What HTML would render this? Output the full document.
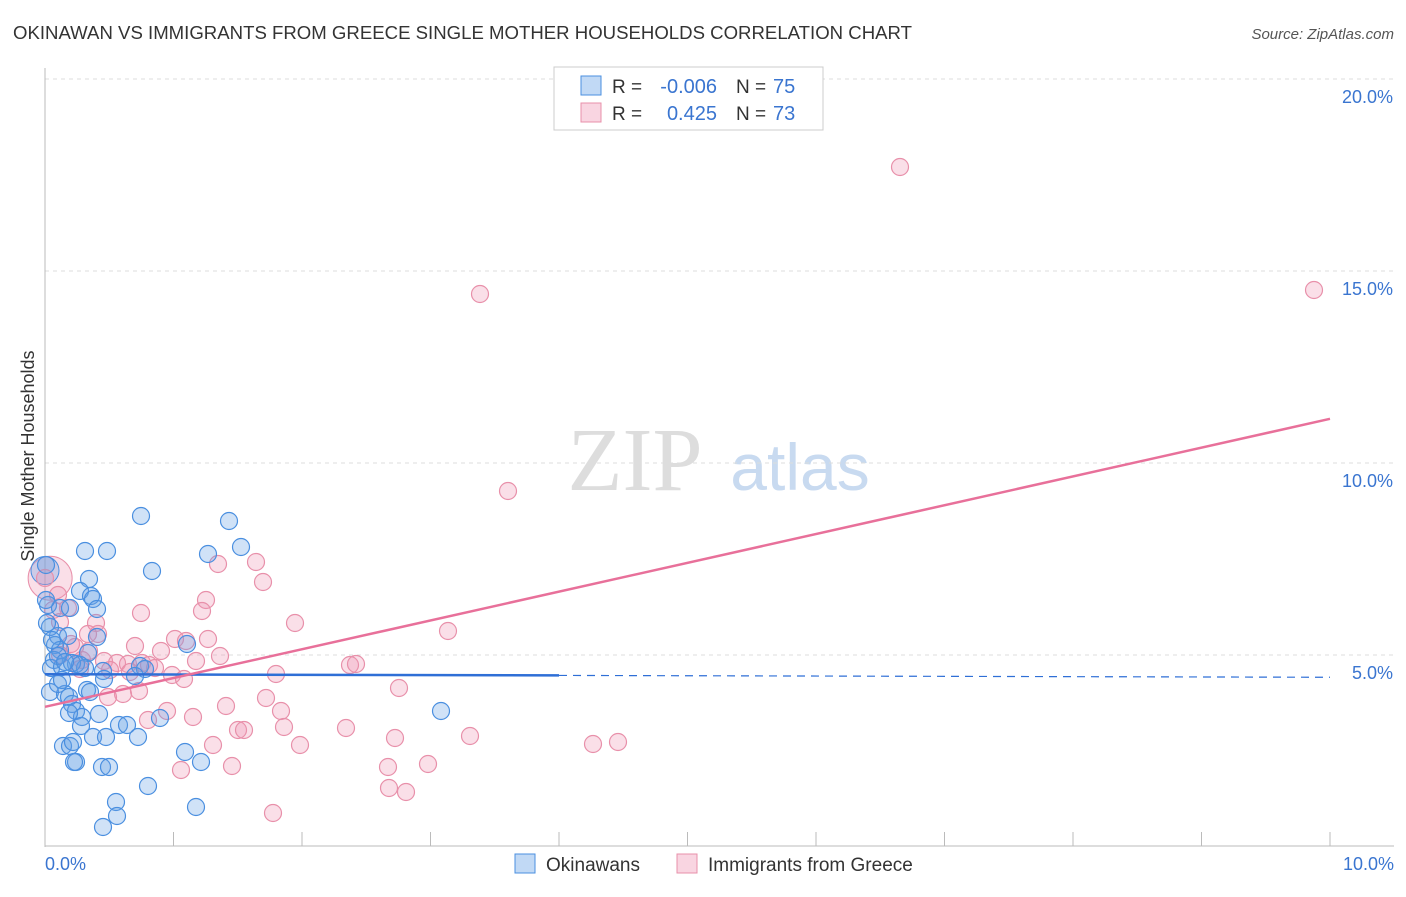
<!DOCTYPE html>
<html><head><meta charset="utf-8"><style>
body{margin:0;background:#fff;font-family:"Liberation Sans",sans-serif;}
</style></head><body>
<svg id="c" width="1406" height="892" xmlns="http://www.w3.org/2000/svg">
<text x="13" y="39" font-size="18" fill="#333" textLength="899" lengthAdjust="spacingAndGlyphs">OKINAWAN VS IMMIGRANTS FROM GREECE SINGLE MOTHER HOUSEHOLDS CORRELATION CHART</text>
<text x="1394" y="39" font-size="15" fill="#555" font-style="italic" text-anchor="end">Source: ZipAtlas.com</text>
<text x="34" y="456" font-size="18" fill="#333" transform="rotate(-90 34 456)" text-anchor="middle">Single Mother Households</text>
<text x="635" y="490" font-size="90" fill="#ddd" font-family="Liberation Serif" text-anchor="middle">ZIP</text>
<text x="800" y="490" font-size="66" fill="#c8daf0" text-anchor="middle">atlas</text>
<g id="grid"></g><g id="pts"></g><g id="lines"></g>
<g>
<rect x="554" y="67" width="269" height="63" fill="#fff" stroke="#ccc"/>
<rect x="581" y="76" width="20" height="19" fill="rgba(100,160,230,0.4)" stroke="#4a8fe0"/>
<rect x="581" y="103" width="20" height="19" fill="rgba(240,150,180,0.4)" stroke="#e890aa"/>
<text x="612" y="93" font-size="19" fill="#333">R =</text>
<text x="717" y="93" font-size="20" fill="#3a75d0" text-anchor="end">-0.006</text>
<text x="736" y="93" font-size="19" fill="#333">N =</text>
<text x="773" y="93" font-size="20" fill="#3a75d0">75</text>
<text x="612" y="120" font-size="19" fill="#333">R =</text>
<text x="717" y="120" font-size="20" fill="#3a75d0" text-anchor="end">0.425</text>
<text x="736" y="120" font-size="19" fill="#333">N =</text>
<text x="773" y="120" font-size="20" fill="#3a75d0">73</text>
</g>
<g>
<rect x="515" y="854" width="20" height="19" fill="rgba(100,160,230,0.4)" stroke="#4a8fe0"/>
<text x="546" y="871" font-size="19" fill="#333">Okinawans</text>
<rect x="677" y="854" width="20" height="19" fill="rgba(240,150,180,0.4)" stroke="#e890aa"/>
<text x="708" y="871" font-size="19" fill="#333">Immigrants from Greece</text>
</g>
</svg>
<script>
const yTicks=[5,10,15,20];
const xTickLabels=["0.0%","10.0%"];
const blueX=[141,229,85,107,241,208,152,89,80,91,93,48,60,70,97,58,68,97,50,55,60,88,76,85,54,51,62,72,80,103,140,145,50,65,87,90,58,62,69,104,135,72,76,99,82,69,81,93,106,119,127,138,160,187,185,201,63,70,73,76,74,102,109,148,116,117,103,196,441,46,46,47,52,58,65].map(p=>(p-45)/128.5);
const blueY=[516,521,551,551,547,554,571,579,591,596,599,605,608,608,609,636,636,637,627,645,650,653,664,668,660,668,667,663,665,671,666,669,692,694,690,692,684,680,697,679,676,704,711,714,717,713,726,737,737,725,725,737,718,644,752,762,746,746,742,762,762,767,767,786,802,816,827,807,711,565,600,623,640,656,662].map(p=>(847-p)/38.4);
const pinkX=[900,480,1314,508,448,256,218,263,206,202,141,295,53,68,45,60,96,98,135,175,161,186,208,220,196,104,117,128,142,149,172,184,276,350,356,139,123,108,266,399,226,281,167,148,193,238,244,346,284,300,213,395,470,593,618,181,232,388,428,389,406,273,71,82,88,110,80,60,75,89,130,155,58].map(p=>(p-45)/128.5);
const pinkY=[167,294,290,491,631,562,564,582,600,611,613,623,610,608,578,622,623,634,646,639,651,641,639,656,661,661,663,664,663,665,675,679,674,665,664,691,694,697,698,688,706,711,711,720,717,730,730,728,727,745,745,738,736,744,742,770,766,767,764,788,792,813,644,660,634,670,669,655,647,651,672,668,595].map(p=>(847-p)/38.4);
const blueLine=[4.5,4.42]; const pinkLine=[3.65,11.15];
const X=v=>45+v*128.5, Y=v=>847-v*38.4;
const NS="http://www.w3.org/2000/svg";
function mk(t,a,p){const e=document.createElementNS(NS,t);for(const k in a)e.setAttribute(k,a[k]);p.appendChild(e);return e;}
const g=document.getElementById('grid');
yTicks.forEach(t=>{
 const l=mk('line',{x1:45,x2:1394,y1:Y(t),y2:Y(t),stroke:'#ddd','stroke-dasharray':'4,4'},g);
 
 
 const tx=mk('text',{x:1393,y:Y(t)+24,'font-size':18,fill:'#3a75d0','text-anchor':'end'},g);tx.textContent=t.toFixed(1)+'%';
 
 
});
mk('line',{x1:45,x2:45,y1:68,y2:847,stroke:'#bbb'},g);
mk('line',{x1:45,x2:1394,y1:846,y2:846,stroke:'#bbb'},g);
for(let i=0;i<=10;i++){mk('line',{x1:X(i),x2:X(i),y1:832,y2:846,stroke:'#bbb'},g);}
xTickLabels.forEach((s,i)=>{const tx=mk('text',{x:i?1394:45,y:870,'font-size':18,fill:'#3a75d0','text-anchor':i?'end':'start'},g);tx.textContent=s;
 
 });
const P=document.getElementById('pts');
const big=mk('circle',{cx:X(0.04),cy:Y(7.0),r:22,fill:'rgba(240,150,180,0.3)',stroke:'#e890aa'},P);


const bb=mk('circle',{cx:X(0.0),cy:Y(7.2),r:14,fill:'rgba(100,160,230,0.3)',stroke:'#4a8fe0'},P);


pinkX.forEach((x,i)=>{const c=mk('circle',{cx:X(x),cy:Y(pinkY[i]),r:8.5,fill:'rgba(240,150,180,0.3)',stroke:'#e890aa','stroke-width':1.2},P);
 
 });
blueX.forEach((x,i)=>{const c=mk('circle',{cx:X(x),cy:Y(blueY[i]),r:8.5,fill:'rgba(100,160,230,0.3)',stroke:'#4a8fe0','stroke-width':1.2},P);
 
 });
const L=document.getElementById('lines');
const bAt=x=>blueLine[0]+(blueLine[1]-blueLine[0])*x/10;
let l1=mk('line',{x1:X(0),y1:Y(bAt(0)),x2:X(4),y2:Y(bAt(4)),stroke:'#2f6fd6','stroke-width':2.5},L);


let l2=mk('line',{x1:X(4),y1:Y(bAt(4)),x2:X(10),y2:Y(bAt(10)),stroke:'#2f6fd6','stroke-width':1.2,'stroke-dasharray':'8,6'},L);


let l3=mk('line',{x1:X(0),y1:Y(pinkLine[0]),x2:X(10),y2:Y(pinkLine[1]),stroke:'#e8709a','stroke-width':2.5},L);


</script>
</body></html>
